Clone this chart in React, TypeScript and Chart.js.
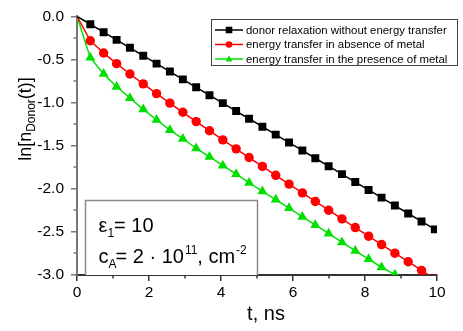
import { useEffect, useRef } from 'react';
import { Chart, registerables } from 'chart.js';

Chart.register(...registerables);

// time axis, ns
const tNs = [0, 0.37, 0.74, 1.1, 1.47, 1.84, 2.21, 2.58, 2.94, 3.31, 3.68, 4.05, 4.42, 4.78, 5.15, 5.52, 5.89, 6.26, 6.62, 6.99, 7.36, 7.73, 8.1, 8.46, 8.83, 9.2, 9.57, 9.94];

const donorRelaxation = [0, -0.092, -0.184, -0.273, -0.365, -0.457, -0.549, -0.641, -0.731, -0.823, -0.915, -1.007, -1.099, -1.188, -1.28, -1.372, -1.464, -1.556, -1.646, -1.738, -1.83, -1.922, -2.014, -2.103, -2.195, -2.287, -2.379, -2.471];

const transferNoMetal = [0, -0.284, -0.425, -0.549, -0.669, -0.784, -0.897, -1.007, -1.113, -1.221, -1.327, -1.433, -1.537, -1.638, -1.741, -1.844, -1.946, -2.048, -2.147, -2.249, -2.349, -2.45, -2.55, -2.647, -2.747, -2.846, -2.946, -3.045];

const transferWithMetal = [0, -0.48, -0.668, -0.817, -0.948, -1.079, -1.2, -1.32, -1.42, -1.53, -1.63, -1.73, -1.83, -1.93, -2.03, -2.125, -2.225, -2.325, -2.42, -2.52, -2.62, -2.72, -2.815, -2.91, -2.995];

const seriesLabels = [
  'donor relaxation without energy transfer',
  'energy transfer in absence of metal',
  'energy transfer in the presence of metal',
];
const seriesColors = ['#000000', '#ff0000', '#00e000'];
const seriesMarkers = ['rect', 'circle', 'triangle'];

const xTicks = [0, 2, 4, 6, 8, 10];
const yTicks = [0, -0.5, -1, -1.5, -2, -2.5, -3];

const FONT = '"Liberation Sans", Arial, Helvetica, sans-serif';

function drawMarker(ctx: CanvasRenderingContext2D, kind: string, x: number, y: number, r: number, color: string) {
  ctx.fillStyle = color;
  ctx.beginPath();
  if (kind === 'rect') {
    ctx.rect(x - r, y - r, 2 * r, 2 * r);
  } else if (kind === 'circle') {
    ctx.arc(x, y, r, 0, Math.PI * 2);
  } else {
    ctx.moveTo(x, y - r * 1.1);
    ctx.lineTo(x + r, y + r * 0.75);
    ctx.lineTo(x - r, y + r * 0.75);
    ctx.closePath();
  }
  ctx.fill();
}

const overlay = {
  id: 'overlay',
  afterDatasetsDraw(chart: any) {
    const ctx: CanvasRenderingContext2D = chart.ctx;
    ctx.save();
    // legend box
    ctx.fillStyle = '#ffffff';
    ctx.fillRect(211, 19, 247, 47);
    ctx.strokeStyle = '#444444';
    ctx.lineWidth = 1;
    ctx.strokeRect(211.5, 19.5, 246, 46);
    const rows = [30, 44.5, 59];
    ctx.font = `11.4px ${FONT}`;
    ctx.textBaseline = 'middle';
    ctx.textAlign = 'left';
    seriesLabels.forEach((lab, i) => {
      const y = rows[i];
      ctx.strokeStyle = seriesColors[i];
      ctx.lineWidth = 1.5;
      ctx.beginPath();
      ctx.moveTo(215, y);
      ctx.lineTo(243, y);
      ctx.stroke();
      drawMarker(ctx, seriesMarkers[i], 229, y, 3.3, seriesColors[i]);
      ctx.fillStyle = '#000';
      ctx.fillText(lab, 246, y + 0.5);
    });

    // annotation box
    ctx.fillStyle = '#ffffff';
    ctx.fillRect(85, 200, 173, 75);
    ctx.strokeStyle = '#8a8a8a';
    ctx.lineWidth = 1.5;
    ctx.beginPath();
    ctx.moveTo(85.5, 275);
    ctx.lineTo(85.5, 200.5);
    ctx.lineTo(257.5, 200.5);
    ctx.lineTo(257.5, 275);
    ctx.stroke();

    ctx.fillStyle = '#000';
    ctx.textBaseline = 'alphabetic';
    let x = 98.5;
    let y = 232;
    ctx.font = `20px ${FONT}`;
    ctx.fillText('ε', x, y);
    x += ctx.measureText('ε').width;
    ctx.font = `12px ${FONT}`;
    ctx.fillText('1', x, y + 5);
    x += ctx.measureText('1').width;
    ctx.font = `20px ${FONT}`;
    ctx.fillText('= 10', x, y);

    x = 98.5;
    y = 262.5;
    ctx.font = `20px ${FONT}`;
    ctx.fillText('c', x, y);
    x += ctx.measureText('c').width;
    ctx.font = `12px ${FONT}`;
    ctx.fillText('A', x, y + 5);
    x += ctx.measureText('A').width - 1;
    ctx.font = `20px ${FONT}`;
    const p1 = '= 2 \u00B7 10';
    ctx.fillText(p1, x, y);
    x += ctx.measureText(p1).width;
    ctx.font = `12px ${FONT}`;
    ctx.fillText('11', x + 1, y - 9);
    x += ctx.measureText('11').width + 1;
    ctx.font = `20px ${FONT}`;
    const p2 = ', cm';
    ctx.fillText(p2, x, y);
    x += ctx.measureText(p2).width;
    ctx.font = `12px ${FONT}`;
    ctx.fillText('-2', x + 1, y - 9);
    ctx.restore();
  },
  afterDraw(chart: any) {
    const ctx: CanvasRenderingContext2D = chart.ctx;
    const xs = chart.scales.x;
    const ys = chart.scales.y;
    const area = chart.chartArea;
    ctx.save();
    // minor ticks
    ctx.lineWidth = 1.5;
    ctx.strokeStyle = '#333333';
    for (let i = 0; i < xTicks.length - 1; i++) {
      const px = Math.round(xs.getPixelForValue((xTicks[i] + xTicks[i + 1]) / 2));
      ctx.beginPath();
      ctx.moveTo(px, area.bottom);
      ctx.lineTo(px, area.bottom + 3.5);
      ctx.stroke();
    }
    ctx.strokeStyle = '#777777';
    for (let i = 0; i < yTicks.length - 1; i++) {
      const py = Math.round(ys.getPixelForValue((yTicks[i] + yTicks[i + 1]) / 2));
      ctx.beginPath();
      ctx.moveTo(area.left, py);
      ctx.lineTo(area.left - 3.5, py);
      ctx.stroke();
    }

    // x title
    ctx.fillStyle = '#000';
    ctx.font = `20px ${FONT}`;
    ctx.textAlign = 'center';
    ctx.textBaseline = 'alphabetic';
    ctx.fillText('t, ns', 266, 320);

    // y title: ln[n_Donor(t)]
    ctx.translate(31, 119);
    ctx.rotate(-Math.PI / 2);
    ctx.textAlign = 'left';
    const mainF = `18px ${FONT}`;
    const subF = `12px ${FONT}`;
    const parts: [string, string, number][] = [
      ['ln[n', mainF, 0],
      ['Donor', subF, 4],
      ['(t)]', mainF, 0],
    ];
    let total = 0;
    parts.forEach(([s, f]) => {
      ctx.font = f;
      total += ctx.measureText(s).width;
    });
    let x = -total / 2;
    parts.forEach(([s, f, dy]) => {
      ctx.font = f;
      ctx.fillText(s, x, dy);
      x += ctx.measureText(s).width;
    });
    ctx.restore();
  },
};

export default function App() {
  const ref = useRef<HTMLCanvasElement | null>(null);
  useEffect(() => {
    if (!ref.current) return;
    const mk = (vals: number[], i: number) => ({
      label: seriesLabels[i],
      data: vals.map((v, k) => ({ x: tNs[k], y: v })),
      borderColor: seriesColors[i],
      backgroundColor: seriesColors[i],
      borderWidth: 1.5,
      pointStyle: seriesMarkers[i],
      pointRadius: (c: any) => (c.dataIndex === 0 ? 0 : i === 0 ? 5.6 : i === 1 ? 4.7 : 5.8),
      pointBorderWidth: 0,
      tension: 0,
    });
    const chart = new Chart(ref.current, {
      type: 'line',
      data: {
        datasets: [
          mk(donorRelaxation, 0),
          mk(transferNoMetal, 1),
          mk(transferWithMetal, 2),
        ],
      },
      options: {
        animation: false,
        responsive: false,
        devicePixelRatio: 1,
        layout: { padding: { top: 7, right: 26, left: 0, bottom: 0 } },
        plugins: { legend: { display: false }, tooltip: { enabled: false } },
        scales: {
          x: {
            type: 'linear',
            min: 0,
            max: 10,
            z: 1,
            afterBuildTicks: (s: any) => {
              s.ticks = xTicks.map((v) => ({ value: v }));
            },
            afterFit: (s: any) => {
              s.height = 56;
            },
            ticks: {
              color: '#000',
              font: { family: FONT, size: 15.5 },
              padding: 2,
              maxRotation: 0,
              callback: (v: any) => String(v),
            },
            grid: { drawOnChartArea: false, drawTicks: true, tickLength: 6, color: '#333333', lineWidth: 1.5 },
            border: { display: true, color: '#333333', width: 2 },
          },
          y: {
            type: 'linear',
            min: -3,
            max: 0,
            z: 1,
            afterBuildTicks: (s: any) => {
              s.ticks = yTicks.map((v) => ({ value: v }));
            },
            afterFit: (s: any) => {
              s.width = 77;
            },
            ticks: {
              color: '#000',
              font: { family: FONT, size: 15.5 },
              padding: 7,
              callback: (v: any) => Number(v).toFixed(1),
            },
            grid: { drawOnChartArea: false, drawTicks: true, tickLength: 6, color: '#777777', lineWidth: 1.5 },
            border: { display: true, color: '#777777', width: 2 },
          },
        },
      },
      plugins: [overlay],
    } as any);
    return () => chart.destroy();
  }, []);
  return (
    <div style={{ position: 'absolute', left: 0, top: 0, width: 463, height: 331, background: '#fff' }}>
      <canvas ref={ref} width={463} height={331} style={{ display: 'block' }} />
    </div>
  );
}
